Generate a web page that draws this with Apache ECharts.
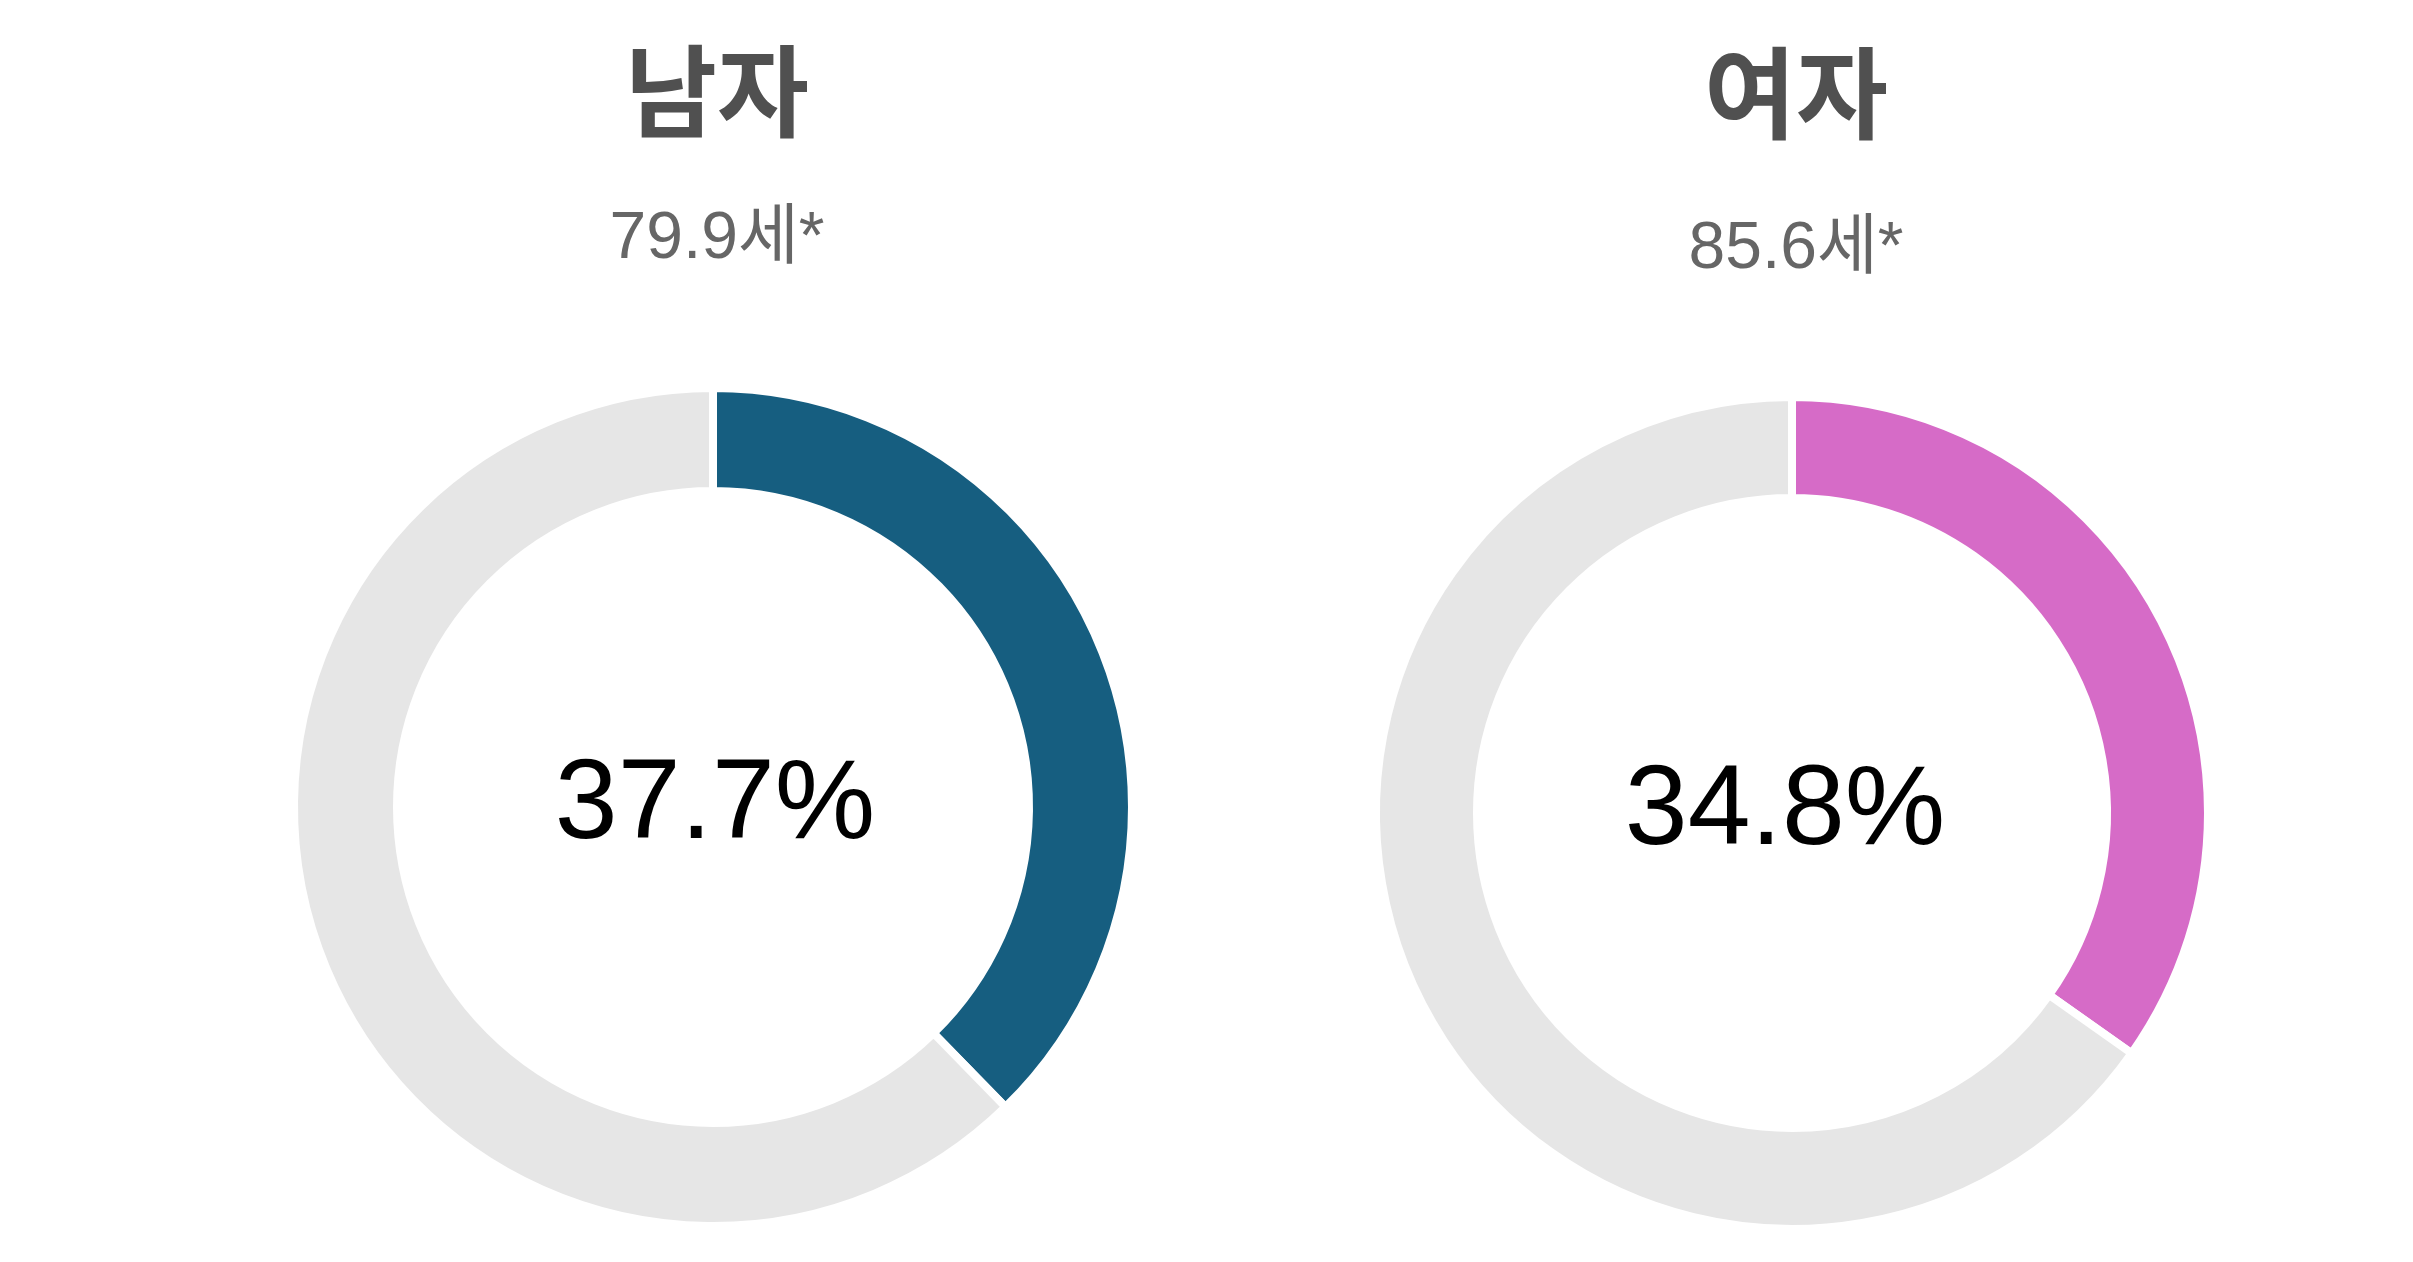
<!DOCTYPE html>
<html>
<head>
<meta charset="utf-8">
<script src="https://cdn.jsdelivr.net/npm/echarts@6/dist/echarts.min.js"></script>
<style>
  html, body { margin: 0; padding: 0; background: #fff; }
  #chart { width: 2413px; height: 1262px; }
</style>
</head>
<body>
<div id="chart"></div>
<script>
// data
var groups = ['남자', '여자'];
var lifeExpectancy = [79.9, 85.6];
var shares = [37.7, 34.8];
var colors = ['#165e80', '#d66bc7'];

// layout per donut (left / right)
var centers = [[713, 807], [1792, 813]];
var radii = [[316, 419], [315, 416]];
var titleTops = [41, 43];
var titleGaps = [66, 74];
var labelShift = [[2, 0], [-7, 0]];

var chart = echarts.init(document.getElementById('chart'));

var titles = groups.map(function (g, i) {
  return {
    text: g,
    subtext: lifeExpectancy[i].toFixed(1) + '세*',
    left: centers[i][0] + 4,
    top: titleTops[i],
    textAlign: 'center',
    padding: 0,
    itemGap: titleGaps[i],
    textStyle: {
      fontFamily: 'Noto Sans CJK KR',
      fontWeight: 'bold',
      fontSize: 100,
      lineHeight: 100,
      color: '#505050'
    },
    subtextStyle: {
      fontFamily: '"Liberation Sans", "Noto Sans CJK KR"',
      fontSize: 66,
      lineHeight: 66,
      color: '#666666'
    }
  };
});

var series = groups.map(function (g, i) {
  return {
    type: 'pie',
    center: centers[i],
    radius: radii[i],
    startAngle: 90,
    clockwise: true,
    silent: true,
    avoidLabelOverlap: false,
    itemStyle: {
      borderColor: '#fff',
      borderWidth: 8
    },
    label: { show: false },
    labelLine: { show: false },
    data: [
      {
        name: g,
        value: shares[i],
        itemStyle: { color: colors[i] },
        label: {
          show: true,
          position: 'center',
          offset: labelShift[i],
          formatter: function (p) { return p.value.toFixed(1) + '%'; },
          fontFamily: 'Liberation Sans',
          fontSize: 113,
          color: '#000'
        }
      },
      {
        name: '기타',
        value: +(100 - shares[i]).toFixed(1),
        itemStyle: { color: '#e6e6e6' }
      }
    ]
  };
});

var option = {
  animation: false,
  backgroundColor: '#fff',
  title: titles,
  series: series
};

chart.setOption(option);
</script>
</body>
</html>
